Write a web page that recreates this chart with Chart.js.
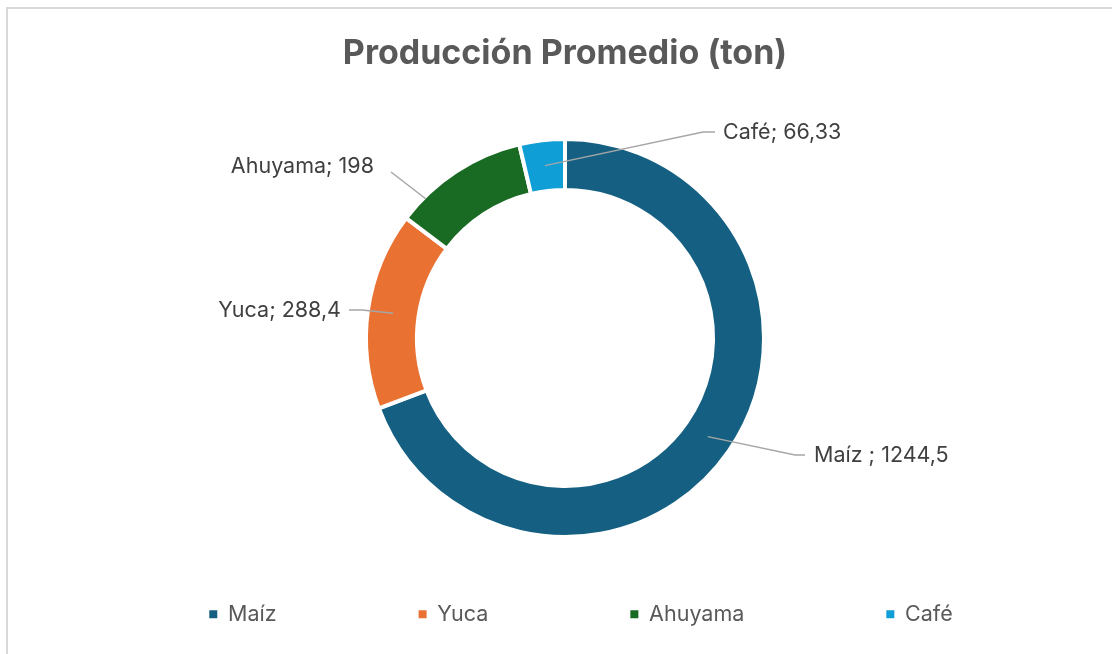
<!DOCTYPE html>
<html>
<head>
<meta charset="utf-8">
<script src="https://cdn.jsdelivr.net/npm/chart.js@4"></script>
<style>
  html, body { margin: 0; padding: 0; background: #ffffff; overflow: hidden; }
  #frame { position: absolute; left: 6px; top: 7px; width: 2000px; height: 2000px;
           border-left: 2px solid #d9d9d9; border-top: 2px solid #d9d9d9; box-sizing: border-box; }
  #wrap { position: absolute; left: 0; top: 0; width: 1130px; height: 654px; }
</style>
</head>
<body>
<div id="frame"></div>
<div id="wrap"><canvas id="c"></canvas></div>
<script>
// ---- data ----
const categories = ['Maíz ', 'Yuca', 'Ahuyama', 'Café'];
const values = [1244.5, 288.4, 198, 66.33];
const chartTitle = 'Producción Promedio (ton)';

// ---- styles ----
const sliceColors = ['#156082', '#E97132', '#196B24', '#0F9ED5'];
const FONT = 'Inter, "Liberation Sans", sans-serif';

// label placement (offsets from the doughnut centre, px)
const labelLayout = [
  { elbow: [230, 117], end: [240, 117], text: [249, 118], align: 'left' },
  { elbow: [-203, -28], end: [-216, -28], text: [-224, -27], align: 'right' },
  { startFrac: 0.2, startAt: 'outer', elbow: [-174, -166], end: [-174, -166], text: [-191, -171], align: 'right' },
  { elbow: [138, -206], end: [150, -206], text: [158, -205], align: 'left' }
];

function fmt(v) { return String(v).replace('.', ','); }

const outsideLabels = {
  id: 'outsideLabels',
  afterDatasetsDraw(chart) {
    const meta = chart.getDatasetMeta(0);
    const ctx = chart.ctx;
    ctx.save();
    meta.data.forEach((arc, i) => {
      const p = arc.getProps(['x', 'y', 'startAngle', 'endAngle', 'innerRadius', 'outerRadius'], true);
      const L = labelLayout[i];
      let ang, r;
      if (L.startAt === 'outer') {
        ang = p.startAngle + L.startFrac * (p.endAngle - p.startAngle);
        r = p.outerRadius - 2;
      } else {
        ang = (p.startAngle + p.endAngle) / 2;
        r = (p.innerRadius + p.outerRadius) / 2;
      }
      const sx = p.x + Math.cos(ang) * r, sy = p.y + Math.sin(ang) * r;
      ctx.strokeStyle = '#a6a6a6';
      ctx.lineWidth = 1.5;
      ctx.beginPath();
      ctx.moveTo(sx, sy);
      ctx.lineTo(p.x + L.elbow[0], p.y + L.elbow[1]);
      ctx.lineTo(p.x + L.end[0], p.y + L.end[1]);
      ctx.stroke();
      ctx.fillStyle = '#404040';
      ctx.font = '21.5px ' + FONT;
      ctx.textAlign = L.align;
      ctx.textBaseline = 'middle';
      ctx.fillText(categories[i] + '; ' + fmt(values[i]), p.x + L.text[0], p.y + L.text[1]);
    });
    ctx.restore();
  }
};

const legendShift = {
  id: 'legendShift',
  afterLayout(chart) {
    if (chart.legend) { chart.legend.left += 16; chart.legend.right += 16; }
  }
};

new Chart(document.getElementById('c'), {
  type: 'doughnut',
  data: {
    labels: categories,
    datasets: [{
      data: values,
      backgroundColor: sliceColors,
      borderColor: '#ffffff',
      borderWidth: 4,
      radius: 199,
      cutout: '74.4%',
      clip: false
    }]
  },
  options: {
    responsive: true,
    maintainAspectRatio: false,
    animation: false,
    layout: { padding: { bottom: 19 } },
    plugins: {
      tooltip: { enabled: false },
      title: {
        display: true,
        text: chartTitle,
        color: '#595959',
        font: { family: FONT, size: 34, weight: 'bold' },
        padding: { top: 33, bottom: 140.7 }
      },
      legend: {
        position: 'bottom',
        labels: {
          color: '#595959',
          font: { family: FONT, size: 21.5 },
          boxWidth: 8,
          boxHeight: 8,
          padding: 142,
          generateLabels(chart) {
            const data = chart.data;
            return data.labels.map((lab, i) => ({
              text: String(lab).trim(),
              fillStyle: sliceColors[i],
              strokeStyle: 'rgba(0,0,0,0)',
              fontColor: '#595959',
              lineWidth: 0,
              hidden: !chart.getDataVisibility(i),
              index: i
            }));
          }
        }
      }
    }
  },
  plugins: [outsideLabels, legendShift]
});
</script>
</body>
</html>
